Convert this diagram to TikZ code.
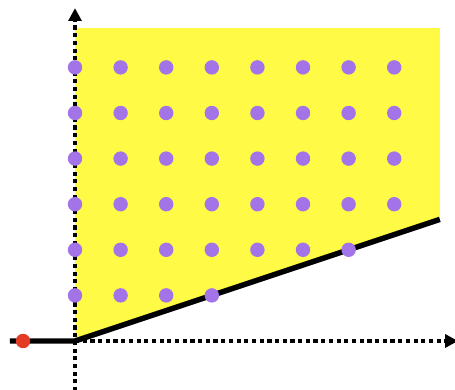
\documentclass[tikz,border=0pt]{standalone}
\usepackage{tikz}
\usetikzlibrary{shapes,arrows.meta,positioning,calc}
\usepackage{xcolor}
\definecolor{regionyellow}{RGB}{255,250,70}
\definecolor{latticepurple}{RGB}{163,116,232}
\definecolor{pointred}{RGB}{228,60,36}

\tikzset{
  axisline/.style={line width=2pt,dash pattern=on 2.6pt off 2.2pt,
                   -{Triangle[width=8pt,length=8pt]}},
  lattice/.style={circle,fill=latticepurple,inner sep=0pt,minimum size=9pt},
  boundary/.style={line width=3.4pt}
}

\begin{document}
\begin{tikzpicture}
  \useasboundingbox (-1.645,-1.053) rectangle (8.333,7.478);
  \coordinate (origin) at (0,0);
  \coordinate (corner) at (8,8/3);
  \coordinate (left) at (-1.43,0);
  % feasible region
  \fill[regionyellow] (origin) -- (corner) -- (8,6.86) -- (0,6.86) -- cycle;
  % axes
  \draw[axisline] (0,-1.1) -- (0,7.3);
  \draw[axisline] (origin) -- (8.4,0);
  % boundary
  \draw[boundary] (left) -- (origin) -- (corner);
  \node[circle,fill=pointred,inner sep=0pt,minimum size=9pt] (red) at (-1.14,0) {};
  % lattice points above the line
  \foreach \y in {1,...,6}
    \foreach \x in {0,...,7}
      {\pgfmathparse{3*\y>=\x ? 1 : 0}
       \ifnum\pgfmathresult=1
         \node[lattice] (p\x\y) at (\x,\y) {};
       \fi}
\end{tikzpicture}
\end{document}
